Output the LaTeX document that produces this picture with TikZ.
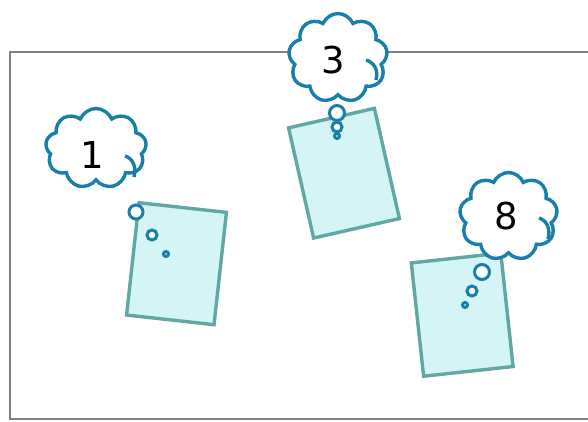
\documentclass[tikz,border=0pt]{standalone}
\usepackage{fontspec}
\setmainfont{DejaVu Sans}
\usetikzlibrary{shapes.symbols}
\definecolor{framegray}{HTML}{808080}
\definecolor{notefill}{HTML}{D4F4F5}
\definecolor{noteline}{HTML}{5FA8A4}
\definecolor{cloudline}{HTML}{1A7FA8}
\tikzset{
  notebox/.style={draw=noteline, fill=notefill, line width=3.4pt, inner sep=0pt,
    minimum width=88pt, minimum height=113pt},
  thought/.style={cloud, cloud puffs=9, cloud puff arc=135, cloud ignores aspect,
    draw=cloudline, fill=white, line width=3.4pt, inner sep=0pt},
  digit/.style={font=\fontsize{37}{40}\selectfont, inner sep=0pt},
  innerarc/.style={cloudline, line width=3.4pt},
  bubble/.style={circle, draw=cloudline, fill=white, line width=3pt, inner sep=0pt},
}
\begin{document}
\begin{tikzpicture}[x=1pt,y=-1pt]
\clip (0,0) rectangle (588,421);
\fill[white] (0,0) rectangle (588,421);
\draw[framegray, line width=2.6pt] (10,52) rectangle (620,419);

% note 1
\node[notebox, rotate=-6.3] (r1) at (176.5,263.7) {};
\node[thought, minimum width=101pt, minimum height=80pt] (c1) at (96,148.5) {};
\node[digit] (t1) at (92,155) {1};
\draw[innerarc] (125,156) .. controls (132,158) and (137,166) .. (134,177) coordinate (c1a);
\node[bubble, minimum size=14pt] (b1a) at (136,212) {};
\node[bubble, minimum size=10pt] (b1b) at (152,235) {};
\node[bubble, minimum size=5pt] (b1c) at (166,254) {};

% note 3
\node[notebox, rotate=12.8] (r3) at (344,173.2) {};
\node[thought, minimum width=99pt, minimum height=89pt] (c3) at (338,58) {};
\node[digit] (t3) at (333,60) {3};
\draw[innerarc] (366,60) .. controls (373,62) and (379,69) .. (376,80) coordinate (c3a);
\node[bubble, minimum size=15pt] (b3a) at (337,113) {};
\node[bubble, minimum size=10pt] (b3b) at (337,127) {};
\node[bubble, minimum size=5pt] (b3c) at (337,136) {};

% note 8
\node[notebox, rotate=6.2, minimum width=90pt, minimum height=114pt] (r8) at (462.2,314.7) {};
\node[thought, minimum width=98pt, minimum height=88pt] (c8) at (508.5,216.5) {};
\node[digit] (t8) at (506,216) {8};
\draw[innerarc] (539,218) .. controls (546,220) and (551,228) .. (548,239) coordinate (c8a);
\node[bubble, minimum size=15pt] (b8a) at (482,272) {};
\node[bubble, minimum size=10pt] (b8b) at (472,291) {};
\node[bubble, minimum size=5pt] (b8c) at (465,305) {};
\end{tikzpicture}
\end{document}
